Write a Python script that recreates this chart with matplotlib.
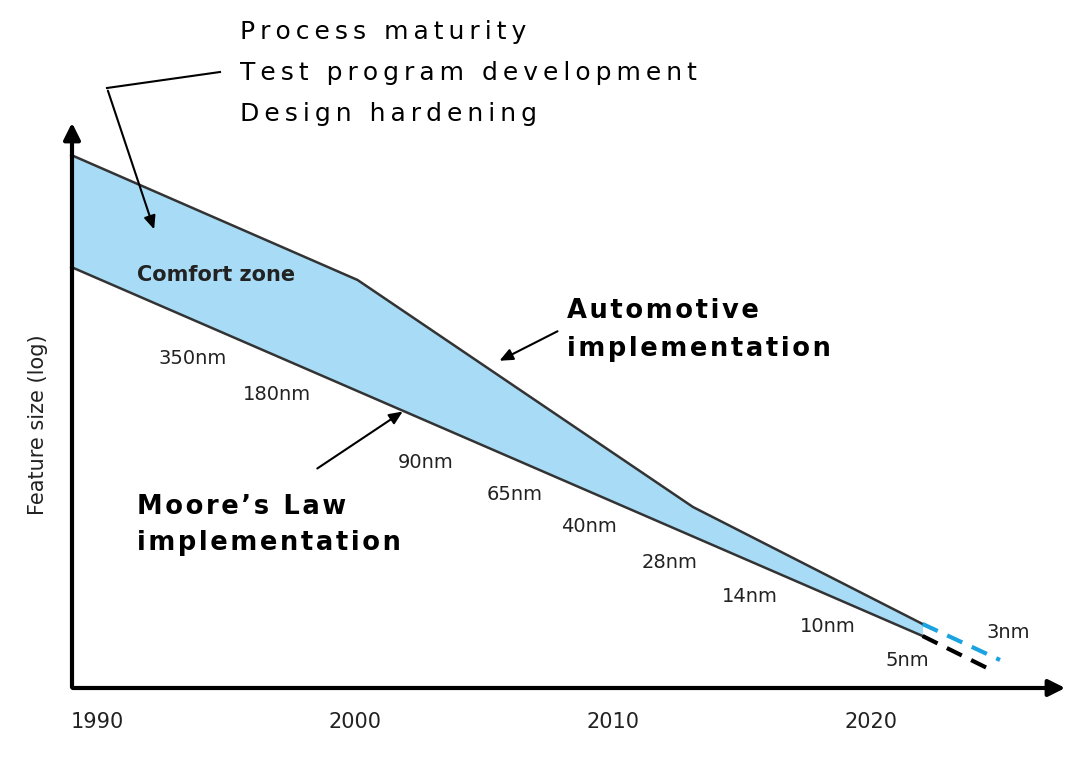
import matplotlib
matplotlib.use("Agg")
import matplotlib.pyplot as plt
import numpy as np

# upper edge (automotive) and lower edge (Moore's law), height in arbitrary log units
auto_years = [1989.0, 2000.1, 2013.1, 2022.0]
auto_size = [533, 408, 181, 64]
moore_years = [1989.0, 2022.0]
moore_size = [421, 52]
auto_future_years = [2022.0, 2025.0]
auto_future_size = [64, 28]
moore_future_years = [2022.0, 2024.5]
moore_future_size = [52, 20]

nodes = ["350nm", "180nm", "90nm", "65nm", "40nm", "28nm", "14nm", "10nm", "5nm", "3nm"]
node_px = [(158, 358), (243, 395), (398, 463), (487, 494), (561, 526),
           (642, 562), (722, 597), (800, 627), (885, 660), (986, 632)]
year_ticks = [1990, 2000, 2010, 2020]

PXY = 25.8  # pixels per year


def X(px):
    return 1990 + (px - 97) / PXY


def Y(py):
    return 688 - py


def spaced(s, sp):
    # crude letter spacing
    return "\n".join(sp.join(line) for line in s.split("\n"))


fig = plt.figure(figsize=(10.9, 7.64), dpi=100)
ax = fig.add_axes([0, 0, 1, 1])
ax.set_xlim(X(0), X(1090))
ax.set_ylim(Y(764), Y(0))
ax.axis("off")

# shaded comfort zone
lo = np.interp(auto_years, moore_years, moore_size)
ax.fill_between(auto_years, lo, auto_size, color="#a8dcf6", lw=0)
ax.plot(auto_years, auto_size, color="#333333", lw=1.8)
ax.plot(moore_years, moore_size, color="#333333", lw=1.8)
ax.plot(auto_future_years, auto_future_size, color="#1aa3e0", lw=3, ls=(0, (4, 2.5)))
ax.plot(moore_future_years, moore_future_size, color="black", lw=3, ls=(0, (4, 2.5)))

# axes arrows
ax.annotate("", xy=(X(72), Y(120)), xytext=(X(72), Y(690)),
            arrowprops=dict(arrowstyle="-|>,head_width=0.5,head_length=1.0", color="black", lw=3))
ax.annotate("", xy=(X(1068), Y(688)), xytext=(X(70), Y(688)),
            arrowprops=dict(arrowstyle="-|>,head_width=0.5,head_length=1.0", color="black", lw=3))

for yr in year_ticks:
    ax.text(yr, Y(722), str(yr), ha="center", va="center", fontsize=15, color="#222222")
ax.text(X(38), Y(425), "Feature size (log)", rotation=90, ha="center", va="center",
        fontsize=15, color="#222222")

for lab, (px, py) in zip(nodes, node_px):
    ax.text(X(px), Y(py), lab, ha="left", va="center", fontsize=14, color="#222222")

for i, s in enumerate(["Process maturity", "Test program development", "Design hardening"]):
    ax.text(X(240), Y(32 + 41 * i), spaced(s, "\u2009"), ha="left", va="center",
            fontsize=18, color="black")
ax.plot([X(220), X(107)], [Y(72), Y(88)], color="black", lw=1.5)
ax.annotate("", xy=(X(155), Y(232)), xytext=(X(107), Y(88)),
            arrowprops=dict(arrowstyle="-|>,head_width=0.35,head_length=0.8", color="black", lw=1.5))

ax.text(X(137), Y(275), "Comfort zone", ha="left", va="center", fontsize=15,
        fontweight="bold", color="#222222")
ax.text(X(567), Y(330), spaced("Automotive\nimplementation", "\u200a"), ha="left", va="center",
        fontsize=18.5, fontweight="bold", color="black", linespacing=1.55)
ax.annotate("", xy=(X(497), Y(362)), xytext=(X(560), Y(330)),
            arrowprops=dict(arrowstyle="-|>,head_width=0.35,head_length=0.8", color="black", lw=1.5))
ax.text(X(137), Y(525), spaced("Moore\u2019s Law\nimplementation", "\u200a"), ha="left", va="center",
        fontsize=18.5, fontweight="bold", color="black", linespacing=1.55)
ax.annotate("", xy=(X(405), Y(410)), xytext=(X(315), Y(470)),
            arrowprops=dict(arrowstyle="-|>,head_width=0.35,head_length=0.8", color="black", lw=1.5))

fig.savefig("out.png", dpi=100)
